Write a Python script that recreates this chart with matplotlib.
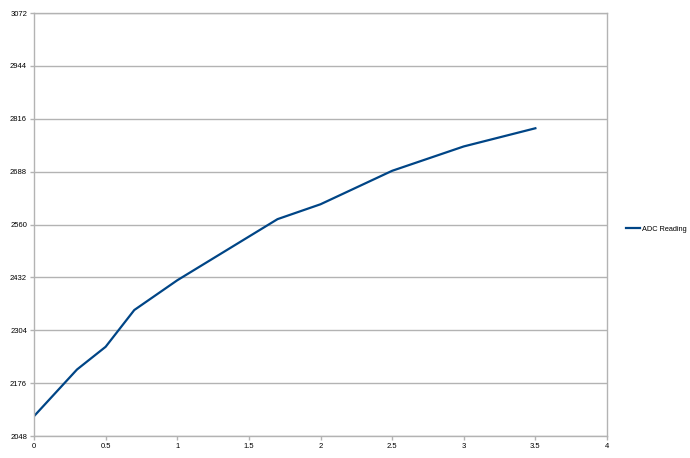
import matplotlib
matplotlib.use('Agg')
import matplotlib.pyplot as plt

plt.rcParams['font.family'] = ['Liberation Sans', 'DejaVu Sans']

# data
voltage = [0, 0.3, 0.5, 0.7, 1.0, 1.7, 2.0, 2.5, 3.0, 3.5]
adc_reading = [2096, 2209, 2264, 2353, 2425, 2573, 2609, 2690, 2749, 2793]
y_ticks = [2048, 2176, 2304, 2432, 2560, 2688, 2816, 2944, 3072]
x_ticks = [0, 0.5, 1, 1.5, 2, 2.5, 3, 3.5, 4]
x_labels = ['0', '0.5', '1', '1.5', '2', '2.5', '3', '3.5', '4']

grid_color = '#b3b3b3'

fig = plt.figure(figsize=(6.9, 4.58), dpi=100)
ax = fig.add_axes([0.0493, 0.048, 0.8304, 0.9236])

ax.plot(voltage, adc_reading, color='#004586', linewidth=1.6,
        label='ADC Reading')

ax.set_xlim(0, 4)
ax.set_ylim(2048, 3072)
ax.set_xticks(x_ticks)
ax.set_xticklabels(x_labels)
ax.set_yticks(y_ticks)

# horizontal grid only
ax.yaxis.grid(True, color=grid_color, linewidth=1)
ax.set_axisbelow(True)
for side in ['left', 'bottom', 'right', 'top']:
    ax.spines[side].set_color(grid_color)
    ax.spines[side].set_linewidth(1)

ax.tick_params(axis='both', colors=grid_color, labelcolor='black',
               labelsize=5.5, length=3, width=1, pad=2)

# legend off to the right
ax.legend(loc='center left', bbox_to_anchor=(1.033, 0.489), frameon=False,
          fontsize=5.3, handlelength=1.9, handletextpad=0.27,
          borderaxespad=0, borderpad=0)

fig.savefig('out.png', dpi=100)
